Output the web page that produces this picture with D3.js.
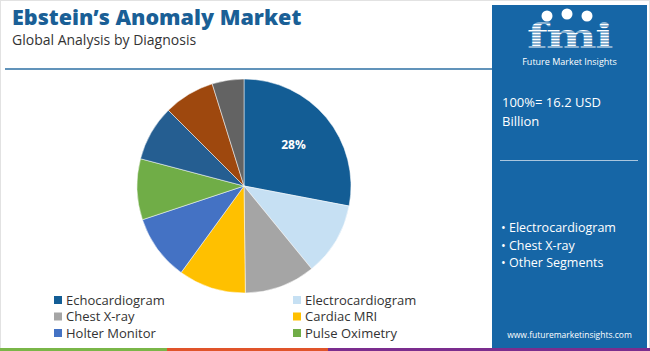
<!DOCTYPE html>
<html>
<head>
<meta charset="utf-8">
<script src="https://cdn.jsdelivr.net/npm/d3@7"></script>
<style>
  body { margin: 0; background: #fff; }
  svg { display: block; font-family: "Open Sans", sans-serif; }
</style>
</head>
<body>
<svg></svg>
<script>
const w = 650
const h = 351

// data
const categories = ['Echocardiogram', 'Electrocardiogram', 'Chest X-ray', 'Cardiac MRI',
  'Holter Monitor', 'Pulse Oximetry', 'Event Monitor', 'Cardiac Catheterization', 'Others']
const shares = [28, 11.1, 10.7, 10.2, 9.9, 9.2, 8.4, 7.7, 4.8]
const colors = ['#135d95', '#c6e0f3', '#a5a5a5', '#ffc000', '#4472c4', '#70ad47', '#255e91', '#9e480e', '#636363']
const legendItems = categories.slice(0, 6)
const sideBullets = ['Electrocardiogram', 'Chest X-ray', 'Other Segments']

const svg = d3.select('svg')
  .attr('width', w)
  .attr('height', h);

// frame
svg.append('rect')
  .attr('x', 0.5).attr('y', 0.5)
  .attr('width', w - 1).attr('height', h - 1)
  .attr('fill', '#fff').attr('stroke', '#e2e2e2');

// titles
svg.append('text')
  .attr('x', 12).attr('y', 25)
  .attr('font-size', 21.5).attr('font-weight', 800)
  .attr('fill', '#1a5f96')
  .text('Ebstein’s Anomaly Market');

svg.append('text')
  .attr('x', 12).attr('y', 45)
  .attr('font-size', 14)
  .attr('fill', '#333')
  .text('Global Analysis by Diagnosis');

svg.append('line')
  .attr('x1', 5).attr('x2', 492)
  .attr('y1', 69).attr('y2', 69)
  .attr('stroke', '#2c6fa3').attr('stroke-width', 1.5);

// pie
const cx = 244, cy = 186, r = 107;
const pie = d3.pie().sort(null).value(d => d)
const arc = d3.arc().innerRadius(0).outerRadius(r)
const arcs = pie(shares)

const g = svg.append('g').attr('transform', `translate(${cx}, ${cy})`);

g.selectAll('path').data(arcs)
  .enter().append('path')
  .attr('d', arc)
  .attr('fill', (d, i) => colors[i])
  .attr('stroke', '#fff')
  .attr('stroke-width', 0.5);

const labelArc = d3.arc().innerRadius(r * 0.6).outerRadius(r * 0.6)
g.append('text')
  .attr('transform', `translate(${labelArc.centroid(arcs[0])})`)
  .attr('text-anchor', 'middle')
  .attr('dy', '0.35em')
  .attr('font-size', 12).attr('font-weight', 700)
  .attr('fill', '#fff')
  .text(shares[0] + '%');

// legend
const legend = svg.append('g');
const lg = legend.selectAll('g').data(legendItems)
  .enter().append('g')
  .attr('transform', (d, i) => `translate(${i % 2 ? 293 : 54}, ${300 + Math.floor(i / 2) * 16.5})`);
lg.append('rect')
  .attr('x', 0).attr('y', -4)
  .attr('width', 8).attr('height', 8)
  .attr('fill', (d, i) => colors[i]);
lg.append('text')
  .attr('x', 12).attr('dy', '0.35em')
  .attr('font-size', 13)
  .attr('fill', '#333')
  .text(d => d);

// bottom stripe
const stripe = [['#7ab648', 0, 167], ['#e0542a', 167, 328], ['#7b2d8e', 328, 650]]
svg.selectAll('.stripe').data(stripe)
  .enter().append('rect')
  .attr('class', 'stripe')
  .attr('x', d => d[1]).attr('y', 348)
  .attr('width', d => d[2] - d[1]).attr('height', 3)
  .attr('fill', d => d[0]);

// side panel
const px = 492, pw = 155;
svg.append('rect')
  .attr('x', px).attr('y', 5)
  .attr('width', pw).attr('height', 343)
  .attr('fill', '#1666a6');

// logo
const logo = svg.append('g');
logo.append('text')
  .attr('transform', `translate(${px + pw / 2}, 48) scale(1.45, 1)`)
  .attr('text-anchor', 'middle')
  .attr('font-family', 'DejaVu Serif')
  .attr('font-weight', 700)
  .attr('font-size', 33)
  .attr('letter-spacing', -1)
  .attr('fill', '#fff')
  .text('fmi');
d3.range(20, 49, 3).forEach(y => {
  logo.append('line')
    .attr('x1', px + 15).attr('x2', px + pw - 15)
    .attr('y1', y).attr('y2', y)
    .attr('stroke', '#1666a6').attr('stroke-width', 1);
});
[[px + 55, 16], [px + 75, 14], [px + 95, 16]].forEach(p => {
  logo.append('circle')
    .attr('cx', p[0]).attr('cy', p[1]).attr('r', 5.5)
    .attr('fill', '#fff');
});
logo.append('text')
  .attr('x', px + pw / 2).attr('y', 65)
  .attr('text-anchor', 'middle')
  .attr('font-size', 9)
  .attr('fill', '#fff')
  .text('Future Market Insights');

svg.append('text')
  .attr('x', px + 10).attr('y', 107)
  .attr('font-size', 13)
  .attr('fill', '#fff')
  .text('100%= 16.2 USD');
svg.append('text')
  .attr('x', px + 10).attr('y', 126)
  .attr('font-size', 13)
  .attr('fill', '#fff')
  .text('Billion');

svg.append('line')
  .attr('x1', px + 8).attr('x2', px + 146)
  .attr('y1', 160.5).attr('y2', 160.5)
  .attr('stroke', '#a9c6de').attr('stroke-width', 1.2);

svg.selectAll('.bullet').data(sideBullets)
  .enter().append('text')
  .attr('class', 'bullet')
  .attr('x', px + 9)
  .attr('y', (d, i) => 232 + i * 17.5)
  .attr('font-size', 12.5)
  .attr('fill', '#fff')
  .text(d => '• ' + d);

svg.append('text')
  .attr('x', px + pw / 2).attr('y', 338)
  .attr('text-anchor', 'middle')
  .attr('font-size', 8.5)
  .attr('fill', '#fff')
  .text('www.futuremarketinsights.com');
</script>
</body>
</html>
